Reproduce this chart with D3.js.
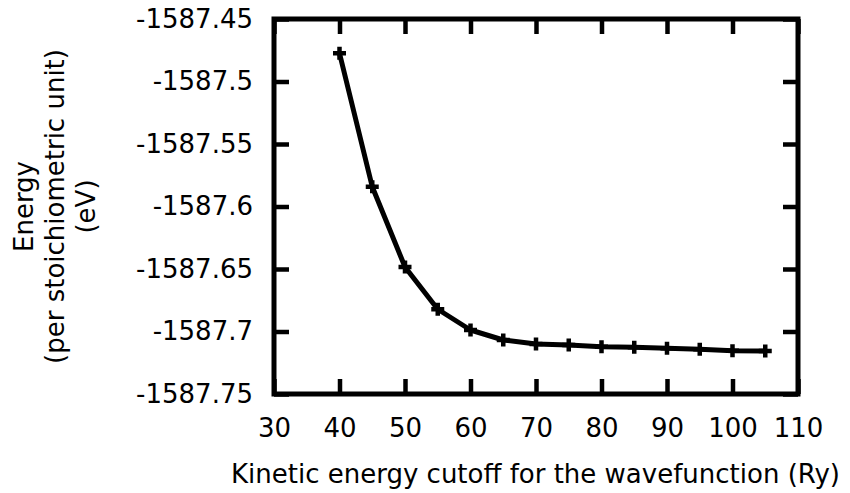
<!DOCTYPE html>
<html>
<head>
<meta charset="utf-8">
<script src="https://cdn.jsdelivr.net/npm/d3@7"></script>
<style>
  html, body { margin: 0; padding: 0; background: #fff; }
  svg { display: block; }
  text { font-family: "DejaVu Sans", sans-serif; fill: #000; }
</style>
</head>
<body>
<svg id="chart" width="850" height="493"></svg>
<script>
// Convergence of total energy with the plane-wave kinetic energy cutoff
const cutoffs = [40, 45, 50, 55, 60, 65, 70, 75, 80, 85, 90, 95, 100, 105];
const energies = [
  -1587.4774, -1587.5842, -1587.6484, -1587.6822, -1587.6988, -1587.7068,
  -1587.7100, -1587.7108, -1587.7122, -1587.7126, -1587.7134, -1587.7142,
  -1587.7154, -1587.7156
];
const xTicks = [30, 40, 50, 60, 70, 80, 90, 100, 110];
const yTicks = [-1587.45, -1587.5, -1587.55, -1587.6, -1587.65, -1587.7, -1587.75];

const svg = d3.select("#chart");
const plotL = 274, plotR = 798, plotT = 19, plotB = 394;

const x = d3.scaleLinear().domain([30, 110]).range([plotL, plotR]);
const y = d3.scaleLinear().domain([-1587.75, -1587.45]).range([plotB, plotT]);

const fontSize = 26;
const tickLen = 15;

// Left axis with labels, ticks pointing inward
const gy = svg.append("g").attr("transform", `translate(${plotL},0)`)
  .call(d3.axisLeft(y).tickValues(yTicks).tickSize(-tickLen).tickPadding(21)
    .tickFormat(d => String(+d.toFixed(2))));
// Bottom axis with labels
const gx = svg.append("g").attr("transform", `translate(0,${plotB})`)
  .call(d3.axisBottom(x).tickValues(xTicks).tickSize(-tickLen).tickPadding(25)
    .tickFormat(d3.format("d")));
// Mirrored ticks on the right and top
const gr = svg.append("g").attr("transform", `translate(${plotR},0)`)
  .call(d3.axisRight(y).tickValues(yTicks).tickSize(-tickLen).tickFormat(""));
const gt = svg.append("g").attr("transform", `translate(0,${plotT})`)
  .call(d3.axisTop(x).tickValues(xTicks).tickSize(-tickLen).tickFormat(""));

[gy, gx, gr, gt].forEach(g => {
  g.select(".domain").remove();
  g.selectAll(".tick line").attr("stroke", "#000").attr("stroke-width", 4.5);
  g.selectAll(".tick text").style("font-family", "DejaVu Sans, sans-serif")
    .style("font-size", fontSize + "px").attr("fill", "#000");
});

// Plot frame
svg.append("rect")
  .attr("x", plotL).attr("y", plotT)
  .attr("width", plotR - plotL).attr("height", plotB - plotT)
  .attr("fill", "none").attr("stroke", "#000").attr("stroke-width", 5);

// Data line
const pts = cutoffs.map((c, i) => [c, energies[i]]);
svg.append("path")
  .datum(pts)
  .attr("fill", "none")
  .attr("stroke", "#000")
  .attr("stroke-width", 5)
  .attr("stroke-linejoin", "round")
  .attr("d", d3.line().x(d => x(d[0])).y(d => y(d[1])));

// Plus markers
const m = 6.5;
svg.append("g").selectAll("path.pt")
  .data(pts).join("path")
  .attr("class", "pt")
  .attr("fill", "none").attr("stroke", "#000").attr("stroke-width", 4.5)
  .attr("d", d => {
    const px = x(d[0]), py = y(d[1]);
    return `M${px - m},${py}H${px + m}M${px},${py - m}V${py + m}`;
  });

// Axis titles
svg.append("text")
  .attr("x", (226 + 845) / 2).attr("y", 483)
  .attr("text-anchor", "middle")
  .style("font-size", fontSize + "px")
  .text("Kinetic energy cutoff for the wavefunction (Ry)");

const yTitle = ["Energy", "(per stoichiometric unit)", "(eV)"];
const yt = svg.append("text")
  .attr("transform", `translate(33,${(plotT + plotB) / 2}) rotate(-90)`)
  .attr("text-anchor", "middle")
  .style("font-size", fontSize + "px");
yTitle.forEach((s, i) => {
  yt.append("tspan").attr("x", 0).attr("y", i * 31).text(s);
});
</script>
</body>
</html>
